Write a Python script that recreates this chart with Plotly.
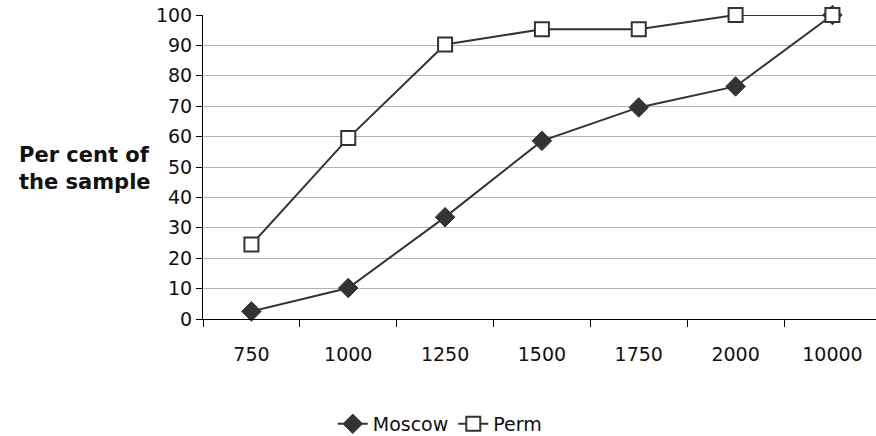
import plotly.graph_objects as go

categories = ["750", "1000", "1250", "1500", "1750", "2000", "10000"]
moscow = [2.5, 10.2, 33.5, 58.6, 69.6, 76.5, 100]
perm = [24.5, 59.5, 90.3, 95.3, 95.3, 100, 100]
y_ticks = [0, 10, 20, 30, 40, 50, 60, 70, 80, 90, 100]

FONT = "DejaVu Sans"
DARK = "#333333"
TXT = "#111111"
FS = 19

L, R, T, B = 203, 0, 15, 117
W, H = 876, 436

fig = go.Figure()
fig.add_trace(go.Scatter(
    x=categories, y=moscow, name="Moscow", mode="lines+markers",
    line=dict(color=DARK, width=2), cliponaxis=False,
    marker=dict(symbol="diamond", size=15, color=DARK, line=dict(color=DARK, width=1)),
))
fig.add_trace(go.Scatter(
    x=categories, y=perm, name="Perm", mode="lines+markers",
    line=dict(color=DARK, width=2), cliponaxis=False,
    marker=dict(symbol="square", size=14, color="white", line=dict(color=DARK, width=2)),
))

fig.update_layout(
    width=W, height=H,
    margin=dict(l=L, r=R, t=T, b=B, autoexpand=False),
    paper_bgcolor="white", plot_bgcolor="white",
    font=dict(family=FONT, size=FS, color=TXT),
    showlegend=True,
    legend=dict(orientation="h", x=0.502, xref="container", xanchor="center",
                y=12 / H, yref="container", yanchor="middle",
                font=dict(family=FONT, size=FS, color=TXT),
                tracegroupgap=0),
    xaxis=dict(
        type="category", range=[-0.5, 6.45], automargin=False,
        showgrid=False, showline=True, linecolor="black", linewidth=1,
        ticks="outside", ticklen=7, tickcolor="black", tickson="boundaries",
        ticklabelstandoff=18, tickfont=dict(size=FS),
    ),
    yaxis=dict(
        range=[0, 100], tickvals=y_ticks, automargin=False,
        showgrid=True, gridcolor="#b3b3b3", gridwidth=1,
        showline=True, linecolor="black", linewidth=1,
        ticks="outside", ticklen=6, tickcolor="black", ticklabelstandoff=0,
        tickfont=dict(size=FS), zeroline=False,
    ),
    annotations=[dict(
        text="<b>Per cent of<br>the sample</b>",
        x=(153 - L) / (W - L - R), xref="paper",
        y=(319 - 168) / (319 - 15), yref="paper",
        showarrow=False, xanchor="right", yanchor="middle", align="left",
        font=dict(family=FONT, size=21, color=TXT),
    )],
)

fig.write_html("out.html",
               config={"displayModeBar": False},
               post_script="document.body.style.margin='0';document.body.style.overflow='hidden';")
